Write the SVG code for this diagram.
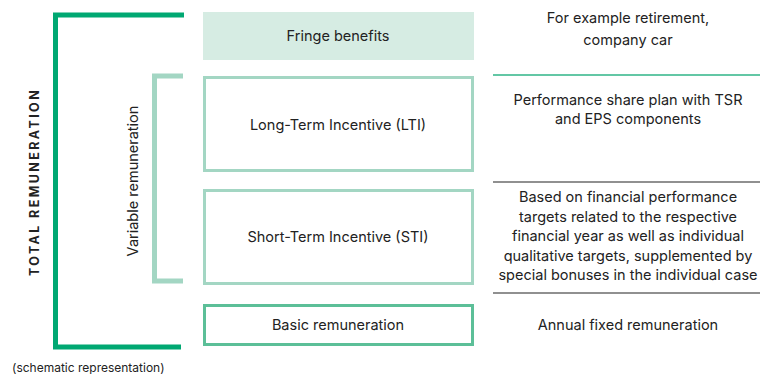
<svg xmlns="http://www.w3.org/2000/svg" width="760" height="374" viewBox="0 0 760 374">
<style>
text{font-family:Inter,"Liberation Sans",Arial,sans-serif;fill:#222;font-size:14.5px}
.c{text-anchor:middle}
.box{fill:#fff;stroke:#a3d6c3;stroke-width:3}
.dark{stroke:#00a872;stroke-width:5;fill:none}
.light{stroke:#a3d6c3;stroke-width:5;fill:none}
</style>
<rect width="760" height="374" fill="#fff"/>
<g id="brackets">
<polyline class="dark" points="184,15 55.5,15 55.5,347 181,347"/>
<polyline class="light" points="183,76 154.5,76 154.5,281 183,281"/>
</g>
<text transform="translate(38.5,182) rotate(-90)" class="c" style="font-weight:bold;font-size:12.5px;letter-spacing:2.4px">TOTAL REMUNERATION</text>
<text transform="translate(138,181) rotate(-90)" class="c">Variable remuneration</text>
<g id="fringe">
<rect x="203" y="12" width="271" height="48" fill="#d6ece3"/>
<text x="338" y="41" class="c">Fringe benefits</text>
</g>
<g id="lti">
<rect class="box" x="204.5" y="77.5" width="268" height="93"/>
<text x="338" y="130" class="c">Long-Term Incentive (LTI)</text>
</g>
<g id="sti">
<rect class="box" x="204.5" y="190.5" width="268" height="93"/>
<text x="338" y="242" class="c">Short-Term Incentive (STI)</text>
</g>
<g id="basic">
<rect x="204.5" y="305.5" width="268" height="39" fill="#fff" stroke="#5cbf98" stroke-width="3"/>
<text x="338" y="330" class="c">Basic remuneration</text>
</g>
<g id="dividers">
<line x1="493" y1="75" x2="760" y2="75" stroke="#2fb487" stroke-width="1.5"/>
<line x1="493" y1="182" x2="760" y2="182" stroke="#6b6b6b" stroke-width="1.5"/>
<line x1="493" y1="293" x2="760" y2="293" stroke="#6b6b6b" stroke-width="1.5"/>
</g>
<g id="descriptions">
<text x="628" y="23" class="c">For example retirement,</text>
<text x="628" y="45" class="c">company car</text>
<text x="628" y="105" class="c">Performance share plan with TSR</text>
<text x="628" y="124" class="c">and EPS components</text>
<text x="628" y="202" class="c">Based on financial performance</text>
<text x="628" y="222" class="c">targets related to the respective</text>
<text x="628" y="241" class="c">financial year as well as individual</text>
<text x="628" y="261" class="c">qualitative targets, supplemented by</text>
<text x="628" y="280" class="c">special bonuses in the individual case</text>
<text x="628" y="330" class="c">Annual fixed remuneration</text>
</g>
<text x="12" y="372" style="font-size:12px">(schematic representation)</text>
</svg>
